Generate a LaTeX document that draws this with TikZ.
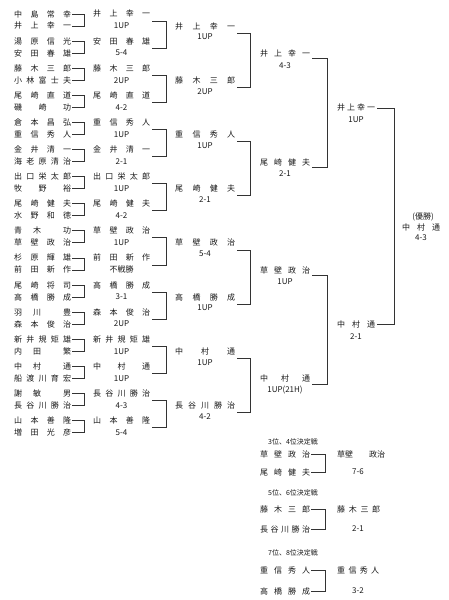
\documentclass[tikz,border=0pt]{standalone}
\usepackage{fontspec}
\newfontfamily\jp{Noto Sans CJK JP}
\newcommand\spr[2]{\makebox[#1][s]{#2}}
\tikzset{
  nm/.style={font=\jp\fontsize{8}{8}\selectfont, inner sep=0pt, text=black!90},
  sc/.style={font=\jp\fontsize{8}{8}\selectfont, inner sep=0pt, text=black!90},
  hd/.style={font=\jp\fontsize{7}{7}\selectfont, inner sep=0pt, text=black!90},
  br/.style={draw=black!80, line width=0.7pt},
}
\begin{document}
\begin{tikzpicture}[x=1pt, y=-1pt]
  \useasboundingbox (0,0) rectangle (449,600);
  \foreach \a/\b [count=\k] in {中 島 常 幸/井 上 幸 一, 湯 原 信 光/安 田 春 雄,
      藤 木 三 郎/小 林 富 士 夫, 尾 崎 直 道/磯 崎 功, 倉 本 昌 弘/重 信 秀 人,
      金 井 清 一/海 老 原 清 治, 出 口 栄 太 郎/牧 野 裕, 尾 崎 健 夫/水 野 和 徳,
      青 木 \mbox{} 功/草 壁 政 治, 杉 原 輝 雄/前 田 新 作, 尾 崎 将 司/高 橋 勝 成,
      羽 川 \mbox{} 豊/森 本 俊 治, 新 井 規 矩 雄/内 田 \mbox{} 繁,
      中 村 \mbox{} 通/船 渡 川 育 宏, 謝 敏 \mbox{} 男/長 谷 川 勝 治,
      山 本 善 隆/増 田 光 彦} {
    \pgfmathsetmacro\yt{14+(\k-1)*27.1}
    \node[nm, anchor=west] (a\k) at (14,\yt) {\spr{57pt}{\a}};
    \node[nm, anchor=west] (b\k) at (14,\yt+12) {\spr{57pt}{\b}};
    \draw[br] ([xshift=1pt]a\k.east) -- ++(12,0) |- ([xshift=1pt]b\k.east);
  }
  \foreach \n/\s [count=\k] in {井 上 幸 一/1UP, 安 田 春 雄/5-4, 藤 木 三 郎/2UP,
      尾 崎 直 道/4-2, 重 信 秀 人/1UP, 金 井 清 一/2-1, 出 口 栄 太 郎/1UP,
      尾 崎 健 夫/4-2, 草 壁 政 治/1UP, 前 田 新 作/不戦勝, 高 橋 勝 成/3-1,
      森 本 俊 治/2UP, 新 井 規 矩 雄/1UP, 中 村 通/1UP, 長 谷 川 勝 治/4-3,
      山 本 善 隆/5-4} {
    \pgfmathsetmacro\yt{14+(\k-1)*27.1}
    \node[nm, anchor=west] (w\k) at (93,\yt) {\spr{57pt}{\n}};
    \node[sc] (ws\k) at (121.5,\yt+12) {\s};
  }
  \foreach \j in {1,...,8} {
    \pgfmathtruncatemacro\ka{2*\j-1}
    \pgfmathtruncatemacro\kb{2*\j}
    \draw[br] ([xshift=2pt,yshift=-7pt]w\ka.east) -- ++(14,0) |- ([xshift=2pt,yshift=-7pt]w\kb.east);
  }
  \foreach \n/\s [count=\j] in {井 上 幸 一/1UP, 藤 木 三 郎/2UP, 重 信 秀 人/1UP,
      尾 崎 健 夫/2-1, 草 壁 政 治/5-4, 高 橋 勝 成/1UP, 中 村 通/1UP,
      長 谷 川 勝 治/4-2} {
    \pgfmathsetmacro\yn{26.05+(\j-1)*54.2}
    \node[nm, anchor=west] (q\j) at (175,\yn) {\spr{60pt}{\n}};
    \node[sc] (qs\j) at (205,\yn+11) {\s};
  }
  \foreach \j in {1,...,4} {
    \pgfmathtruncatemacro\ka{2*\j-1}
    \pgfmathtruncatemacro\kb{2*\j}
    \draw[br] ([xshift=2pt,yshift=-7pt]q\ka.east) -- ++(13,0) |- ([xshift=2pt,yshift=-7pt]q\kb.east);
  }
  \foreach \n/\s [count=\j] in {井 上 幸 一/4-3, 尾 崎 健 夫/2-1, 草 壁 政 治/1UP,
      中 村 通/{1UP(21H)}} {
    \pgfmathsetmacro\yn{53.65+(\j-1)*108.4}
    \node[nm, anchor=west] (h\j) at (260,\yn) {\spr{50pt}{\n}};
    \node[sc] (hs\j) at (285,\yn+11.5) {\s};
  }
  \foreach \j in {1,2} {
    \pgfmathtruncatemacro\ka{2*\j-1}
    \pgfmathtruncatemacro\kb{2*\j}
    \draw[br] ([xshift=2pt,yshift=-5pt]h\ka.east) -- ++(15,0) |- ([xshift=2pt,yshift=-5pt]h\kb.east);
  }
  \node[nm, anchor=west] (f1) at (337,107.85) {\spr{38pt}{井 上 幸 一}};
  \node[sc] (fs1) at (356,119.35) {1UP};
  \node[nm, anchor=west] (f2) at (337,324.65) {\spr{38pt}{中 村 通}};
  \node[sc] (fs2) at (356,336.15) {2-1};
  \draw[br] ([xshift=2pt]f1.east) -- ++(17,0) |- ([xshift=2pt]f2.east);
  \node[sc] (yu) at (423,217) {(優勝)};
  \node[nm] (ch) at (421,227) {\spr{38pt}{中 村 通}};
  \node[sc] (chs) at (421,238) {4-3};
  \foreach \t/\a/\b/\w/\ww/\s/\yh/\ya/\yb [count=\i] in {
      3位、4位決定戦/草 壁 政 治/尾 崎 健 夫/草壁 政治/48/7-6/442/454/472,
      5位、6位決定戦/藤 木 三 郎/長 谷 川 勝 治/藤 木 三 郎/43/2-1/493/509/529,
      7位、8位決定戦/重 信 秀 人/高 橋 勝 成/重 信 秀 人/42/3-2/553/570/591} {
    \node[hd] (t\i) at (293,\yh) {\t};
    \node[nm, anchor=west] (pa\i) at (260,\ya) {\spr{50pt}{\a}};
    \node[nm, anchor=west] (pb\i) at (260,\yb) {\spr{50pt}{\b}};
    \draw[br] ([xshift=1pt]pa\i.east) -- ++(14,0) |- ([xshift=1pt]pb\i.east);
    \node[nm, anchor=west] (pw\i) at (337,\ya) {\spr{\ww pt}{\w}};
    \node[sc] (ps\i) at (358,\yb) {\s};
  }
\end{tikzpicture}
\end{document}
